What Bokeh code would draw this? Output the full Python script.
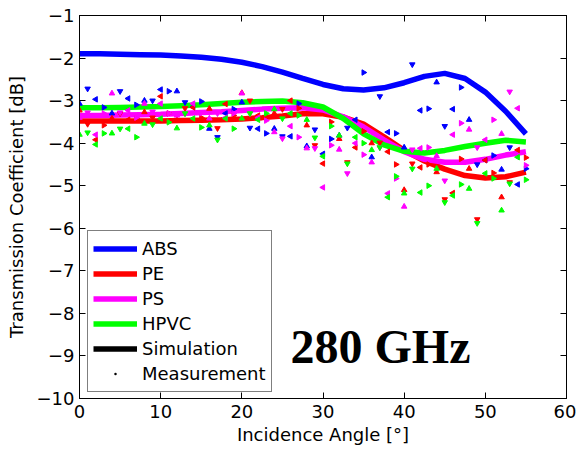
import math
from bokeh.plotting import figure
from bokeh.models import (LinearAxis, FixedTicker, Legend, LegendItem, Label,
                          ColumnDataSource, Range1d, CustomJSTickFormatter)
from bokeh.embed import file_html
from bokeh.resources import INLINE

# ---------------- data ----------------
x_ticks = [0, 10, 20, 30, 40, 50, 60]
y_ticks = [-10, -9, -8, -7, -6, -5, -4, -3, -2, -1]
y_tick_labels = ["\u221210", "\u22129", "\u22128", "\u22127", "\u22126",
                 "\u22125", "\u22124", "\u22123", "\u22122", "\u22121"]

series_names = ["ABS", "PE", "PS", "HPVC"]
series_colors = ["#0000FF", "#FF0000", "#FF00FF", "#00FF00"]

# simulation curves
angle_sim = [0, 2.5, 5, 7.5, 10, 12.5, 15, 17.5, 20, 22.5, 25, 27.5, 30,
             32.5, 35, 37.5, 40, 42.5, 45, 47.5, 50, 52.5, 55]
abs_sim = [-1.90, -1.90, -1.91, -1.92, -1.93, -1.95, -1.98, -2.03, -2.10,
           -2.20, -2.33, -2.48, -2.62, -2.72, -2.75, -2.70, -2.58, -2.43,
           -2.36, -2.48, -2.80, -3.25, -3.78]
pe_sim = [-3.48, -3.48, -3.48, -3.48, -3.48, -3.47, -3.46, -3.45, -3.43,
          -3.40, -3.36, -3.31, -3.31, -3.39, -3.55, -3.85, -4.17, -4.42,
          -4.61, -4.76, -4.82, -4.79, -4.68]
ps_sim = [-3.35, -3.35, -3.34, -3.33, -3.32, -3.30, -3.28, -3.26, -3.23,
          -3.20, -3.18, -3.17, -3.22, -3.38, -3.62, -3.92, -4.20, -4.38,
          -4.45, -4.45, -4.38, -4.28, -4.20]
hpvc_sim = [-3.17, -3.17, -3.16, -3.15, -3.14, -3.12, -3.10, -3.07, -3.04,
            -3.02, -3.01, -3.05, -3.15, -3.42, -3.78, -4.04, -4.19, -4.23,
            -4.17, -4.08, -4.00, -3.93, -3.97]

# measurements (every degree 0..55)
angle_meas = list(range(0, 56))
abs_meas = [-3.07, -2.72, -2.97, -3.16, -3.30, -2.78, -2.95, -3.10, -3.00, -3.00,
            -2.74, -2.78, -2.78, -3.04, -3.15, -3.02, -3.66, -3.86, -3.30, -3.20,
            -3.04, -3.64, -3.66, -3.77, -3.66, -3.84, -3.84, -3.07, -4.07, -3.68,
            -4.25, -3.90, -3.82, -3.64, -3.45, -2.34, -4.33, -2.90, -3.74, -3.77,
            -4.10, -2.15, -3.23, -3.19, -2.57, -3.60, -3.20, -2.69, -3.45, -4.50,
            -4.40, -4.29, -4.62, -4.10, -4.97, -4.60]
pe_meas = [-3.23, -3.55, -3.92, -3.58, -3.42, -3.30, -3.45, -3.42, -3.27, -3.40,
           -2.90, -3.30, -3.45, -3.18, -3.16, -3.40, -3.19, -3.65, -3.08, -3.35,
           -2.82, -3.00, -3.35, -3.40, -3.30, -3.20, -3.00, -3.18, -3.58, -4.05,
           -4.48, -3.50, -3.90, -4.45, -4.10, -3.72, -4.00, -3.99, -4.20, -4.50,
           -5.10, -4.48, -4.57, -4.50, -4.68, -5.32, -5.17, -4.37, -4.60, -5.79,
           -4.40, -4.70, -5.27, -4.92, -4.16, -4.34]
ps_meas = [-3.40, -3.28, -3.80, -3.30, -2.83, -3.28, -3.23, -3.40, -3.07, -3.26,
           -3.07, -3.30, -3.35, -3.30, -3.07, -3.30, -3.42, -3.30, -3.40, -3.30,
           -2.83, -3.30, -3.40, -3.47, -3.74, -3.89, -3.60, -3.86, -4.12, -4.12,
           -5.04, -4.05, -4.15, -4.71, -4.00, -4.27, -4.45, -4.10, -5.18, -4.83,
           -5.49, -4.15, -4.12, -4.10, -4.30, -4.88, -3.80, -3.53, -3.68, -4.10,
           -3.92, -3.45, -3.78, -2.79, -3.18, -4.52]
hpvc_meas = [-3.80, -3.75, -4.03, -3.77, -3.77, -3.66, -3.66, -3.86, -3.54, -3.56,
             -3.42, -3.51, -3.65, -3.30, -3.42, -3.63, -3.58, -3.92, -3.42, -3.66,
             -3.42, -3.30, -3.45, -3.30, -3.20, -3.42, -3.30, -3.35, -3.45, -3.87,
             -4.31, -3.60, -3.82, -4.48, -3.86, -4.00, -4.16, -4.10, -5.27, -4.78,
             -5.18, -4.60, -5.16, -5.00, -4.60, -5.39, -5.23, -4.97, -5.07, -5.88,
             -4.71, -4.83, -5.58, -4.95, -4.33, -4.86]

sim_series = [abs_sim, pe_sim, ps_sim, hpvc_sim]
meas_series = [abs_meas, pe_meas, ps_meas, hpvc_meas]

FONT = "DejaVu Sans"

# ---------------- figure ----------------
p = figure(width=576, height=450, output_backend="svg", toolbar_location=None,
           x_range=Range1d(0, 60), y_range=Range1d(-10, -1),
           min_border_left=79, min_border_right=10, min_border_top=15,
           min_border_bottom=52)
p.grid.visible = False
p.outline_line_color = "black"
p.outline_line_width = 1
p.background_fill_color = "white"
p.border_fill_color = "white"

p.xaxis.ticker = FixedTicker(ticks=x_ticks)
p.yaxis.ticker = FixedTicker(ticks=y_ticks)
p.yaxis.major_label_overrides = {t: l for t, l in zip(y_ticks, y_tick_labels)}
for ax in (p.xaxis[0], p.yaxis[0]):
    ax.major_tick_in = 6
    ax.major_tick_out = 0
    ax.minor_tick_line_color = None
    ax.axis_line_color = "black"
    ax.major_tick_line_color = "black"
    ax.major_label_text_font = FONT
    ax.major_label_text_font_size = "18px"
    ax.major_label_text_color = "black"
    ax.axis_label_text_font = FONT
    ax.axis_label_text_font_size = "18px"
    ax.axis_label_text_font_style = "normal"
    ax.axis_label_text_color = "black"
p.xaxis.axis_label = "Incidence Angle [\u00b0]"
p.yaxis.axis_label = "Transmission Coefficient [dB]"
p.xaxis.major_label_standoff = 6
p.yaxis.major_label_standoff = 5
p.xaxis.axis_label_standoff = 3
p.yaxis.axis_label_standoff = 7

# box ticks on the top and right edges (no labels)
blank = CustomJSTickFormatter(code="return ''")
for side, tick in (("above", x_ticks), ("right", y_ticks)):
    ax = LinearAxis(ticker=FixedTicker(ticks=tick), major_tick_in=6,
                    major_tick_out=0, minor_tick_line_color=None,
                    formatter=blank, major_label_standoff=0,
                    axis_line_color="black")
    p.add_layout(ax, side)

# simulation curves
sim_renderers = []
for name, col, ys in zip(series_names, series_colors, sim_series):
    r = p.line(angle_sim, ys, line_color=col, line_width=5.5)
    sim_renderers.append(r)

# measurement markers (orientation cycles through 4 directions)
angles_cycle = [0, math.pi, math.pi / 2, -math.pi / 2]
for name, col, ys in zip(series_names, series_colors, meas_series):
    src = ColumnDataSource(dict(x=angle_meas, y=ys,
                                a=[angles_cycle[i % 4] for i in range(len(ys))]))
    p.scatter("x", "y", source=src, marker="triangle", angle="a", size=5.5,
              fill_color=col, line_color=col)

# legend-only renderers (a single NaN point so nothing shows in the plot)
nan = float("nan")
sim_proxy = p.line(x=[nan], y=[nan], line_color="black", line_width=5.5)
meas_proxy = p.scatter(x=[nan], y=[nan], marker="dot", size=10,
                       fill_color="black", line_color="black", line_width=2)

items = [LegendItem(label=n, renderers=[r]) for n, r in zip(series_names, sim_renderers)]
items.append(LegendItem(label="Simulation", renderers=[sim_proxy]))
items.append(LegendItem(label="Measurement", renderers=[meas_proxy]))
legend = Legend(items=items, location=(8, 6), orientation="vertical",
                label_text_font=FONT, label_text_font_size="18px",
                label_text_color="black", glyph_width=44, glyph_height=25,
                label_height=25, spacing=0, padding=5, margin=0,
                label_standoff=5, border_line_color="black",
                border_line_width=1, background_fill_color="white",
                background_fill_alpha=1)
p.add_layout(legend, "center")

p.add_layout(Label(x=26, y=-8.78, text="280 GHz", text_font="Liberation Serif",
                   text_font_style="bold", text_font_size="48px",
                   text_color="black", text_baseline="alphabetic"))

open("out.html", "w").write(file_html(p, INLINE))
